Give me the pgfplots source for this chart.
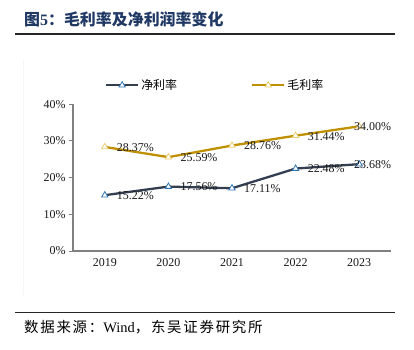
\documentclass[border=0pt]{standalone}
\usepackage{pgfplots}
\pgfplotsset{compat=1.18}
\usepackage{fontspec}
\setmainfont{Liberation Serif}
\newfontfamily\cjk{Noto Sans CJK SC}
\definecolor{titleblue}{RGB}{31,56,100}
\definecolor{netline}{RGB}{51,63,80}
\definecolor{netmark}{RGB}{46,117,182}
\definecolor{grossline}{RGB}{191,144,0}
\definecolor{grossmark}{RGB}{235,205,110}
\definecolor{axisgray}{RGB}{128,128,128}
\begin{document}
\begin{tikzpicture}[x=1bp,y=1bp]
\path (0,0) rectangle (414,350);
% title
\node[anchor=west, text=titleblue, inner sep=0] at (24,331) {\fontsize{16}{18}\selectfont\cjk\bfseries 图{\fontspec{Liberation Serif}\bfseries 5}：毛利率及净利润率变化};
\draw[line width=1.4pt, black!85] (15,316) -- (395,316);
\draw[line width=1.4pt, black!85] (15,37.5) -- (395,37.5);
\draw[black!4, line width=0.6pt] (23,55) -- (23,290);
\node[anchor=west, inner sep=0] at (24,23) {\fontsize{14.5}{16}\selectfont\cjk\addfontfeature{LetterSpace=12}数据来源：{\fontspec{Liberation Serif}Wind}，东吴证券研究所};
\begin{axis}[
  at={(73bp,99bp)}, anchor=south west,
  scale only axis, width=318bp, height=146.7bp,
  xmin=-0.5, xmax=4.5, ymin=0, ymax=40,
  axis lines*=left,
  axis line style={axisgray, line width=1.3pt, -},
  xtick={0,1,2,3,4},
  xticklabels={2019,2020,2021,2022,2023},
  extra x ticks={-0.5,0.5,1.5,2.5,3.5,4.5},
  extra x tick labels={},
  extra x tick style={major tick length=4bp, tick style={axisgray, line width=1pt}, tick align=outside},
  x tick style={draw=none},
  ytick={0,10,20,30,40},
  yticklabels={0\%,10\%,20\%,30\%,40\%},
  y tick style={axisgray, line width=1pt},
  tick align=outside, major tick length=4bp,
  tick label style={font=\fontsize{12}{14}\selectfont, text=black!90},
  /pgf/number format/assume math mode=true,
  clip=false,
  legend columns=2,
  legend style={draw=none, fill=none, at={(0.10,1.13)}, anchor=west, inner sep=0pt,
     font=\fontsize{12}{14}\selectfont\cjk, /tikz/every even column/.append style={column sep=72bp}},
  legend image code/.code={\draw[mark repeat=2,mark phase=2] plot coordinates {(0bp,0bp) (16bp,0bp) (32bp,0bp)};},
  lbl/.style={draw=none, mark=none, forget plot,
    nodes near coords={\pgfmathprintnumber[fixed,fixed zerofill,precision=2]{\pgfplotspointmeta}\%},
    every node near coord/.append style={font=\fontsize{12}{14}\selectfont, text=black!90, anchor=west, xshift=11bp, yshift=-0.5bp, inner sep=1pt}},
]
\addplot[netline, line width=2.3pt, mark=triangle*, mark size=3.6bp,
  mark options={fill=white, draw=netmark, line width=0.8pt, solid}]
  coordinates {(0,15.22) (1,17.56) (2,17.11) (3,22.48) (4,23.68)};
\addlegendentry{净利率}
\addplot[grossline, line width=2.3pt, mark=triangle*, mark size=3.6bp,
  mark options={fill=white, draw=grossmark, line width=0.8pt, solid}]
  coordinates {(0,28.37) (1,25.59) (2,28.76) (3,31.44) (4,34.00)};
\addlegendentry{毛利率}
\addplot[lbl] coordinates {(0,15.22) (1,17.56) (2,17.11) (3,22.48)};
\addplot[lbl] coordinates {(0,28.37) (1,25.59) (2,28.76) (3,31.44)};
% labels for 2023, clamped at right edge
\addplot[lbl, every node near coord/.append style={anchor=east, xshift=22bp}]
  coordinates {(4,23.68) (4,34.00)};
\end{axis}
\end{tikzpicture}
\end{document}
